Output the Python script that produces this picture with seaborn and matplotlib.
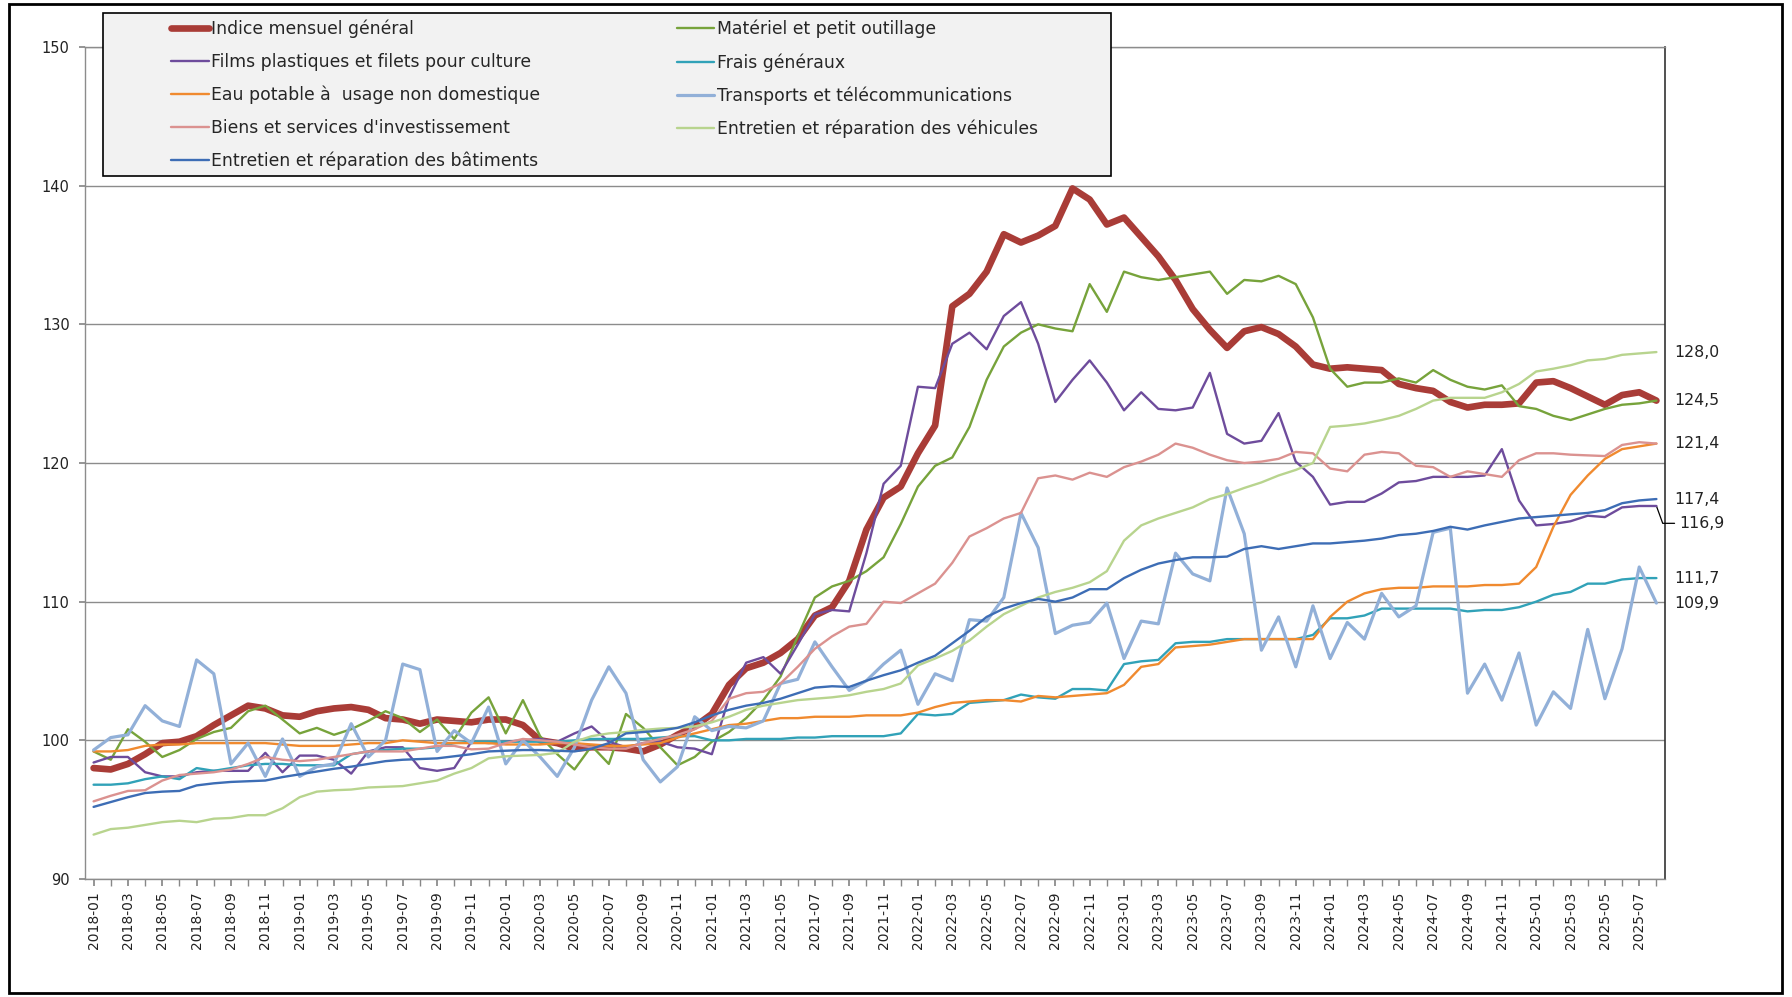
import numpy as np
import pandas as pd
import matplotlib
matplotlib.use("Agg")
import matplotlib.pyplot as plt
import matplotlib.transforms as mtransforms
from matplotlib.patches import Rectangle
import seaborn as sns

# ---------------- data ----------------
months = [f"{y}-{m:02d}" for y in range(2018, 2026) for m in range(1, 13)][:92]

indice = [98.0, 97.9, 98.3, 99.0, 99.8, 99.9, 100.3, 101.1, 101.8, 102.5, 102.3, 101.8,
          101.7, 102.1, 102.3, 102.4, 102.2, 101.6, 101.5, 101.2, 101.5, 101.4, 101.3, 101.5,
          101.5, 101.1, 100.0, 99.8, 99.4, 99.5, 99.5, 99.4, 99.2, 99.7, 100.4, 101.0,
          101.9, 104.0, 105.2, 105.6, 106.3, 107.3, 109.0, 109.6, 111.5, 115.2, 117.5, 118.3,
          120.7, 122.7, 131.3, 132.2, 133.8, 136.5, 135.9, 136.4, 137.1, 139.8, 139.0, 137.2,
          137.7, 136.3, 134.9, 133.2, 131.1, 129.6, 128.3, 129.5, 129.8, 129.3, 128.4, 127.1,
          126.8, 126.9, 126.8, 126.7, 125.7, 125.4, 125.2, 124.4, 124.0, 124.2, 124.2, 124.3,
          125.8, 125.9, 125.4, 124.8, 124.2, 124.9, 125.1, 124.5]

materiel = [99.2, 98.6, 100.8, 99.9, 98.8, 99.3, 100.1, 100.6, 100.9, 102.1, 102.5, 101.5,
            100.5, 100.9, 100.4, 100.8, 101.4, 102.1, 101.6, 100.6, 101.5, 100.1, 102.0, 103.1,
            100.5, 102.9, 100.3, 99.0, 97.9, 99.6, 98.3, 101.9, 100.9, 99.5, 98.2, 98.8,
            99.9, 100.6, 101.6, 102.9, 104.6, 107.5, 110.3, 111.1, 111.5, 112.2, 113.2, 115.6,
            118.3, 119.8, 120.4, 122.6, 126.0, 128.4, 129.4, 130.0, 129.7, 129.5, 132.9, 130.9,
            133.8, 133.4, 133.2, 133.4, 133.6, 133.8, 132.2, 133.2, 133.1, 133.5, 132.9, 130.5,
            126.8, 125.5, 125.8, 125.8, 126.1, 125.8, 126.7, 126.0, 125.5, 125.3, 125.6, 124.1,
            123.9, 123.4, 123.1, 123.5, 123.9, 124.2, 124.3, 124.5]

films = [98.4, 98.8, 98.8, 97.7, 97.4, 97.4, 97.7, 97.8, 97.8, 97.8, 99.1, 97.7,
         98.9, 98.9, 98.6, 97.6, 99.2, 99.5, 99.5, 98.0, 97.8, 98.0, 99.9, 99.8,
         99.9, 100.0, 100.1, 99.9, 100.5, 101.0, 99.9, 99.5, 99.8, 99.9, 99.5, 99.4,
         99.0, 103.1, 105.6, 106.0, 104.8, 106.9, 109.1, 109.4, 109.3, 113.5, 118.5, 119.8,
         125.5, 125.4, 128.6, 129.4, 128.2, 130.6, 131.6, 128.6, 124.4, 126.0, 127.4, 125.8,
         123.8, 125.1, 123.9, 123.8, 124.0, 126.5, 122.1, 121.4, 121.6, 123.6, 120.1, 119.0,
         117.0, 117.2, 117.2, 117.8, 118.6, 118.7, 119.0, 119.0, 119.0, 119.1, 121.0, 117.3,
         115.5, 115.6, 115.8, 116.2, 116.1, 116.8, 116.9, 116.9]

frais = [96.8, 96.8, 96.9, 97.2, 97.4, 97.2, 98.0, 97.8, 98.0, 98.2, 98.3, 98.3,
         98.2, 98.2, 98.2, 99.0, 99.2, 99.3, 99.4, 99.4, 99.5, 99.8, 99.9, 99.9,
         99.9, 99.9, 99.9, 99.9, 100.0, 100.1, 100.1, 100.1, 100.1, 100.2, 100.3, 100.3,
         100.0, 100.0, 100.1, 100.1, 100.1, 100.2, 100.2, 100.3, 100.3, 100.3, 100.3, 100.5,
         101.9, 101.8, 101.9, 102.7, 102.8, 102.9, 103.3, 103.1, 103.0, 103.7, 103.7, 103.6,
         105.5, 105.7, 105.8, 107.0, 107.1, 107.1, 107.3, 107.3, 107.3, 107.3, 107.3, 107.6,
         108.8, 108.8, 109.0, 109.5, 109.5, 109.5, 109.5, 109.5, 109.3, 109.4, 109.4, 109.6,
         110.0, 110.5, 110.7, 111.3, 111.3, 111.6, 111.7, 111.7]

eau = [99.2, 99.2, 99.3, 99.6, 99.7, 99.7, 99.8, 99.8, 99.8, 99.8, 99.8, 99.7,
       99.6, 99.6, 99.6, 99.7, 99.8, 99.8, 100.0, 99.9, 99.8, 99.8, 99.8, 99.8,
       99.7, 99.7, 99.7, 99.8, 99.8, 99.7, 99.6, 99.6, 99.7, 99.8, 100.2, 100.5,
       100.8, 101.1, 101.2, 101.4, 101.6, 101.6, 101.7, 101.7, 101.7, 101.8, 101.8, 101.8,
       102.0, 102.4, 102.7, 102.8, 102.9, 102.9, 102.8, 103.2, 103.1, 103.2, 103.3, 103.4,
       104.0, 105.3, 105.5, 106.7, 106.8, 106.9, 107.1, 107.3, 107.3, 107.3, 107.3, 107.3,
       108.9, 110.0, 110.6, 110.9, 111.0, 111.0, 111.1, 111.1, 111.1, 111.2, 111.2, 111.3,
       112.5, 115.4, 117.7, 119.1, 120.3, 121.0, 121.2, 121.4]

transports = [99.3, 100.2, 100.4, 102.5, 101.4, 101.0, 105.8, 104.8, 98.3, 99.8, 97.4, 100.1,
              97.4, 98.1, 98.3, 101.2, 98.8, 100.0, 105.5, 105.1, 99.2, 100.7, 99.8, 102.4,
              98.3, 100.0, 98.8, 97.4, 99.5, 102.9, 105.3, 103.4, 98.6, 97.0, 98.1, 101.7,
              100.7, 101.0, 100.9, 101.4, 104.1, 104.4, 107.1, 105.3, 103.6, 104.3, 105.5, 106.5,
              102.6, 104.8, 104.3, 108.7, 108.6, 110.3, 116.4, 113.9, 107.7, 108.3, 108.5, 109.9,
              105.9, 108.6, 108.4, 113.5, 112.0, 111.5, 118.2, 114.9, 106.5, 108.9, 105.3, 109.7,
              105.9, 108.5, 107.3, 110.6, 108.9, 109.7, 115.0, 115.3, 103.4, 105.5, 102.9, 106.3,
              101.1, 103.5, 102.3, 108.0, 103.0, 106.6, 112.5, 109.9]

biens = [95.6, 96.0, 96.35, 96.4, 97.1, 97.5, 97.6, 97.7, 97.9, 98.3, 98.8, 98.6,
         98.5, 98.6, 98.8, 99.0, 99.2, 99.2, 99.2, 99.4, 99.6, 99.6, 99.35, 99.4,
         99.8, 100.1, 100.0, 99.9, 99.7, 99.5, 99.4, 99.4, 99.8, 100.1, 100.4, 100.8,
         101.4, 103.0, 103.4, 103.5, 104.1, 105.3, 106.6, 107.5, 108.2, 108.4, 110.0, 109.9,
         110.6, 111.3, 112.8, 114.7, 115.3, 116.0, 116.4, 118.9, 119.1, 118.8, 119.3, 119.0,
         119.7, 120.1, 120.6, 121.4, 121.1, 120.6, 120.2, 120.0, 120.1, 120.3, 120.8, 120.7,
         119.6, 119.4, 120.6, 120.8, 120.7, 119.8, 119.7, 119.0, 119.4, 119.2, 119.0, 120.2,
         120.7, 120.7, 120.6, 120.55, 120.5, 121.3, 121.5, 121.4]

vehicules = [93.2, 93.6, 93.7, 93.9, 94.1, 94.2, 94.1, 94.35, 94.4, 94.6, 94.6, 95.1,
             95.9, 96.3, 96.4, 96.45, 96.6, 96.65, 96.7, 96.9, 97.1, 97.6, 98.0, 98.7,
             98.85, 98.9, 98.95, 99.1, 99.9, 100.3, 100.5, 100.6, 100.75, 100.85, 100.9, 101.0,
             101.3, 101.7, 102.2, 102.5, 102.7, 102.9, 103.0, 103.1, 103.25, 103.5, 103.7, 104.1,
             105.4, 105.9, 106.45, 107.2, 108.2, 109.1, 109.7, 110.3, 110.7, 111.0, 111.4, 112.2,
             114.4, 115.5, 116.0, 116.4, 116.8, 117.4, 117.75, 118.2, 118.6, 119.1, 119.5, 120.0,
             122.6, 122.7, 122.85, 123.1, 123.4, 123.9, 124.5, 124.7, 124.7, 124.7, 125.1, 125.7,
             126.6, 126.8, 127.05, 127.4, 127.5, 127.8, 127.9, 128.0]

batiments = [95.2, 95.55, 95.9, 96.2, 96.3, 96.35, 96.75, 96.9, 97.0, 97.05, 97.1, 97.35,
             97.55, 97.75, 97.95, 98.1, 98.3, 98.5, 98.6, 98.65, 98.7, 98.85, 99.0, 99.2,
             99.25, 99.3, 99.3, 99.25, 99.2, 99.4, 99.8, 100.5, 100.6, 100.7, 100.9, 101.3,
             101.8, 102.2, 102.5, 102.7, 103.0, 103.4, 103.8, 103.9, 103.85, 104.3, 104.7, 105.05,
             105.6, 106.1, 107.0, 107.9, 108.9, 109.5, 109.9, 110.2, 110.0, 110.3, 110.9, 110.9,
             111.7, 112.3, 112.75, 113.0, 113.2, 113.2, 113.25, 113.8, 114.0, 113.8, 114.0, 114.2,
             114.2, 114.3, 114.4, 114.55, 114.8, 114.9, 115.1, 115.4, 115.2, 115.5, 115.75, 116.0,
             116.1, 116.2, 116.3, 116.4, 116.6, 117.1, 117.3, 117.4]

series_names = ["Indice mensuel général", "Matériel et petit outillage",
                "Films plastiques et filets pour culture", "Frais généraux",
                "Eau potable à  usage non domestique", "Transports et télécommunications",
                "Biens et services d'investissement", "Entretien et réparation des véhicules",
                "Entretien et réparation des bâtiments"]
series_values = [indice, materiel, films, frais, eau, transports, biens, vehicules, batiments]

end_labels = ["128,0", "124,5", "121,4", "117,4", "111,7", "109,9"]
end_label_y = [128.0, 124.5, 121.4, 117.4, 111.7, 109.9]
films_label = "116,9"

# ---------------- style ----------------
colors = ["#A93C37", "#77A33B", "#6E4C9C", "#31A2B8", "#F08A2F",
          "#92B0D8", "#DB9290", "#B8D48E", "#3D6DB5"]
widths = [4.8, 1.7, 1.7, 1.7, 1.7, 2.3, 1.7, 1.7, 1.7]

sns.set_theme(style="white")
plt.rcParams['font.family'] = ['DejaVu Sans']

fig = plt.figure(figsize=(17.92, 9.97), dpi=100)
ax = fig.add_axes([85 / 1792, 1 - 879 / 997, 1580 / 1792, 832 / 997])

x = np.arange(len(months))
handles = {}
for i, (name, vals) in enumerate(zip(series_names, series_values)):
    sns.lineplot(x=x, y=vals, ax=ax, color=colors[i], linewidth=widths[i],
                 label=name, legend=False, zorder=3 + i * 0.1,
                 solid_capstyle='round', solid_joinstyle='round')
    handles[name] = ax.get_lines()[-1]

ax.set_xlim(-0.5, len(months) - 0.5)
ax.set_ylim(90, 150)
ax.set_yticks(np.arange(90, 151, 10))
ax.set_yticklabels([str(v) for v in range(90, 151, 10)], fontsize=10.5, color="#222222")
ax.set_xticks(x[::2])
ax.set_xticklabels(months[::2], rotation=90, fontsize=10, color="#222222")
ax.set_xticks(x[1::2], minor=True)
ax.tick_params(axis='x', which='both', length=5, color="#888888", direction='out', pad=4,
               bottom=True)
ax.tick_params(axis='y', length=4, color="#888888", direction='out', pad=7, left=True)
ax.set_xlabel("")
ax.set_ylabel("")

ax.yaxis.grid(True, color="#8C8C8C", linewidth=1.0)
ax.xaxis.grid(False)
ax.set_axisbelow(True)
for side in ["left", "bottom", "top"]:
    ax.spines[side].set_color("#8C8C8C")
    ax.spines[side].set_linewidth(1.0)
ax.spines["right"].set_color("#333333")
ax.spines["right"].set_linewidth(1.2)

# end value labels
blend = mtransforms.blended_transform_factory(ax.transAxes, ax.transData)
for txt, yv in zip(end_labels, end_label_y):
    ax.text(1.006, yv, txt, transform=blend, ha='left', va='center', fontsize=11.3,
            color="#222222", clip_on=False)
ax.annotate(films_label, xy=(len(months) - 1, films[-1]), xycoords='data',
            xytext=(1.009, 115.65), textcoords=blend, ha='left', va='center',
            fontsize=11.3, color="#222222", annotation_clip=False,
            arrowprops=dict(arrowstyle='-', color='black', lw=0.9, shrinkA=1, shrinkB=0,
                            connectionstyle='angle,angleA=0,angleB=-70,rad=0'))

# legend box
box = Rectangle((103 / 1792, 1 - 176 / 997), 1008 / 1792, 163 / 997,
                transform=fig.transFigure, facecolor="#F2F2F2", edgecolor="black",
                linewidth=1.2, zorder=8)
fig.add_artist(box)
order = [0, 2, 4, 6, 8, 1, 3, 5, 7]
leg = fig.legend([handles[series_names[k]] for k in order],
                 [series_names[k] for k in order],
                 ncol=2, loc='upper left', bbox_to_anchor=(171 / 1792, 1 - 20 / 997),
                 frameon=False, fontsize=12.4, handlelength=2.2, handletextpad=0.15,
                 columnspacing=7.9, labelspacing=0.85, borderpad=0, borderaxespad=0)
leg.set_zorder(9)

# outer border
fig.add_artist(Rectangle((9 / 1792, 4 / 997), 1773 / 1792, 989 / 997,
                         transform=fig.transFigure, fill=False, edgecolor="black",
                         linewidth=2, zorder=10))

fig.savefig("out.png", dpi=100)
